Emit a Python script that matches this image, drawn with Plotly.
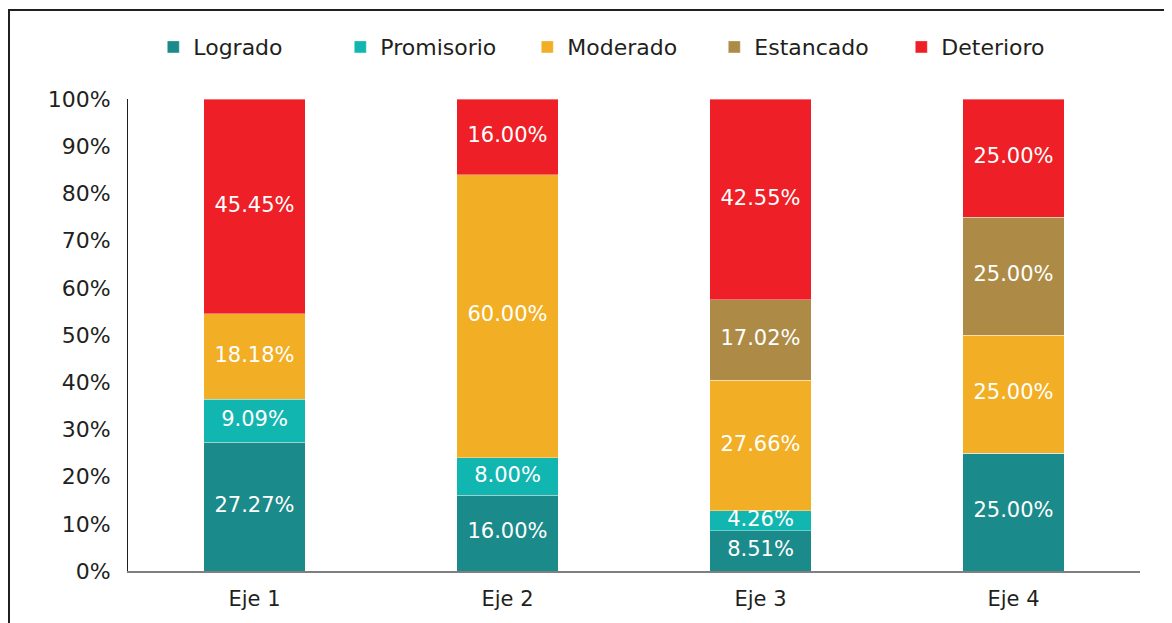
import plotly.graph_objects as go

categories = ["Eje 1", "Eje 2", "Eje 3", "Eje 4"]
logrado = [27.27, 16.00, 8.51, 25.00]
promisorio = [9.09, 8.00, 4.26, 0.0]
moderado = [18.18, 60.00, 27.66, 25.00]
estancado = [0.0, 0.0, 17.02, 25.00]
deterioro = [45.45, 16.00, 42.55, 25.00]

series = [
    ("Logrado", logrado, "#1a8a8a"),
    ("Promisorio", promisorio, "#12b6b0"),
    ("Moderado", moderado, "#f2ae24"),
    ("Estancado", estancado, "#ad8b47"),
    ("Deterioro", deterioro, "#ee1f26"),
]

FONT = "DejaVu Sans"
fig = go.Figure()
base = [0.0] * len(categories)
label_x, label_y, label_t = [], [], []
for name, vals, color in series:
    fig.add_trace(go.Bar(
        x=categories, y=vals, name=name,
        marker=dict(color=color, line=dict(color="rgba(255,255,255,0.45)", width=0.8)),
        width=0.4, hoverinfo="x+y+name",
    ))
    for i, v in enumerate(vals):
        if v > 0:
            label_x.append(categories[i])
            label_y.append(base[i] + v / 2)
            label_t.append(f"{v:.2f}%")
        base[i] += v

fig.add_trace(go.Scatter(
    x=label_x, y=label_y, text=label_t, mode="text", showlegend=False,
    textfont=dict(color="white", size=21, family=FONT), hoverinfo="skip",
))

fig.update_layout(
    barmode="stack",
    width=1172, height=623,
    margin=dict(l=120, r=40, t=91, b=60),
    paper_bgcolor="white", plot_bgcolor="white",
    font=dict(family=FONT, color="#231f20", size=21),
    showlegend=True,
    legend=dict(orientation="h", x=0.025, y=1.11, xanchor="left", yanchor="middle",
                font=dict(size=22, family=FONT, color="#231f20"),
                traceorder="normal", itemwidth=30, entrywidth=142),
    xaxis=dict(range=[-0.5, 3.5], showgrid=False, showline=True, linecolor="#7f7f7f",
               linewidth=2, ticks="", tickfont=dict(size=21, family=FONT, color="#231f20"),
               ticklabelstandoff=8),
    yaxis=dict(range=[0, 100], tickvals=[0, 10, 20, 30, 40, 50, 60, 70, 80, 90, 100],
               ticktext=[f"{v}%" for v in range(0, 101, 10)],
               showgrid=False, zeroline=False, showline=True, linecolor="#231f20",
               linewidth=1, ticks="", tickfont=dict(size=22, family=FONT, color="#231f20"),
               ticklabelstandoff=12),
    shapes=[dict(type="rect", xref="paper", yref="paper",
                 x0=-0.1176, x1=1.2, y0=-0.3, y1=1.1886,
                 line=dict(color="#231f20", width=2), layer="below")],
)

fig.write_html("out.html")
